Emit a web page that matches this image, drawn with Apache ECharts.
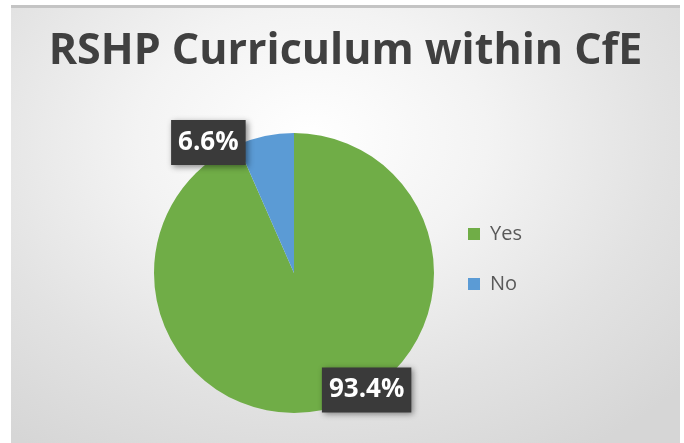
<!DOCTYPE html>
<html>
<head>
<meta charset="utf-8">
<script src="https://cdn.jsdelivr.net/npm/echarts@6/dist/echarts.min.js"></script>
<style>
  html, body { margin: 0; padding: 0; background: #ffffff; width: 684px; height: 443px; overflow: hidden; }
  #frame {
    position: absolute; left: 11px; top: 5px; width: 669px; height: 438px;
    box-sizing: border-box; border-top: 3px solid #c4c4c4;
    background: radial-gradient(ellipse 75% 85% at 45% 30%, #ffffff 0%, #f3f3f3 35%, #e2e2e2 70%, #d6d6d6 100%);
  }
  #chart { position: absolute; left: 0; top: -3px; width: 669px; height: 438px; }
</style>
</head>
<body>
<div id="frame"><div id="chart"></div></div>
<script>
const titleText = 'RSHP Curriculum within CfE';
const categories = ['Yes', 'No'];
const values = [93.4, 6.6];
const colors = ['#70AD47', '#5B9BD5'];

const labelShift = [[57.6, 45.5], [-70.6, -59]];

const chart = echarts.init(document.getElementById('chart'), null, { renderer: 'canvas' });
chart.setOption({
  animation: false,
  title: {
    text: titleText,
    left: 'center',
    top: 20,
    textStyle: { fontFamily: 'Open Sans', fontWeight: 'bold', fontSize: 43, color: '#404040', lineHeight: 44 }
  },
  legend: {
    orient: 'vertical',
    left: 457,
    top: 219,
    padding: 0,
    itemWidth: 12,
    itemHeight: 12,
    itemGap: 30,
    itemStyle: { borderWidth: 0 },
    textStyle: { fontFamily: 'Open Sans', fontSize: 20, color: '#595959', lineHeight: 20, padding: [0, 0, 0, 5] },
    icon: 'rect',
    data: categories
  },
  series: [{
    type: 'pie',
    center: [283, 268],
    radius: [0, 140],
    startAngle: 90,
    clockwise: true,
    avoidLabelOverlap: false,
    itemStyle: { borderWidth: 0 },
    emphasis: { disabled: true },
    label: {
      show: true,
      position: 'inside',
      formatter: p => p.value.toFixed(1) + '%',
      fontFamily: 'Open Sans',
      fontWeight: 'bold',
      fontSize: 26,
      lineHeight: 27,
      color: '#ffffff',
      backgroundColor: '#3a3a3a',
      padding: [9, 7, 9, 7],
      shadowColor: 'rgba(0,0,0,0.45)',
      shadowBlur: 6,
      shadowOffsetX: 2,
      shadowOffsetY: 2
    },
    labelLine: { show: false },
    labelLayout: p => ({ dx: labelShift[p.dataIndex][0], dy: labelShift[p.dataIndex][1] }),
    data: categories.map((c, i) => ({ name: c, value: values[i], itemStyle: { color: colors[i] } }))
  }]
});
</script>
</body>
</html>
